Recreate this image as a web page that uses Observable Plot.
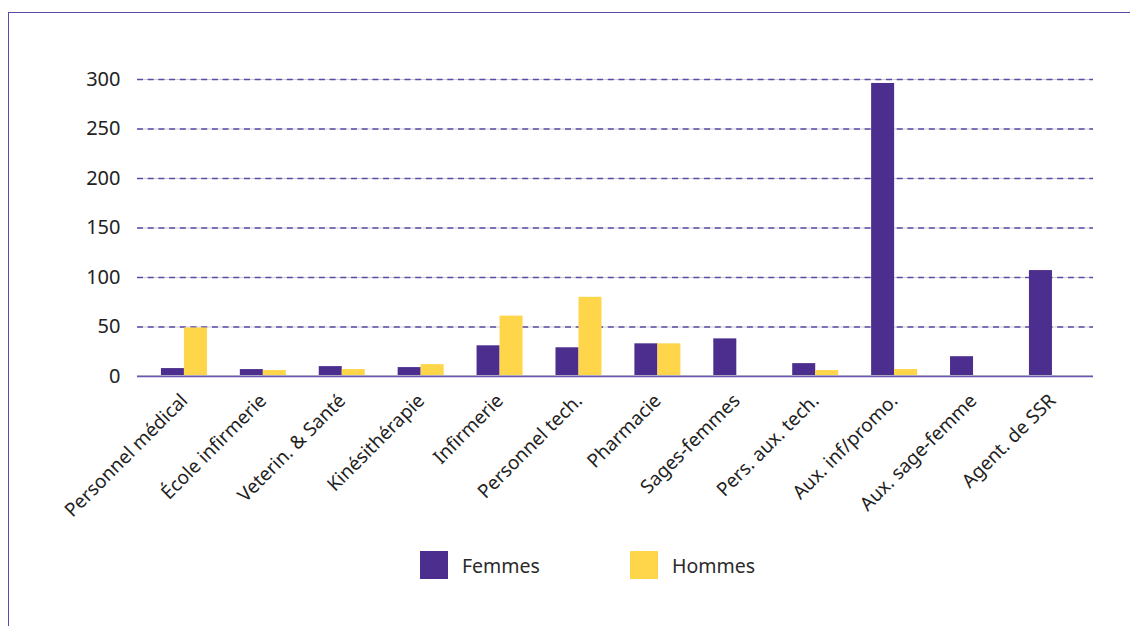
<!DOCTYPE html>
<html><head><meta charset="utf-8">
<script src="https://cdn.jsdelivr.net/npm/d3@7"></script>
<script src="https://cdn.jsdelivr.net/npm/@observablehq/plot@0.6"></script>
<style>
body{margin:0;background:#fff;font-family:"Noto Sans",sans-serif;}
#wrap{position:relative;width:1130px;height:626px;overflow:hidden;background:#fff;}
#frame{position:absolute;left:8px;top:12px;width:1200px;height:700px;border-left:1.5px solid #5e48a8;border-top:1.5px solid #5e48a8;}
#chart{position:absolute;left:0;top:0;}
#legend{position:absolute;top:551px;left:420px;display:flex;align-items:center;font-size:19.5px;color:#2a2a2a;}
#legend .item{display:flex;align-items:center;}
#legend .sw{width:28px;height:28px;margin-right:14px;}
</style>
</head><body>
<div id="wrap"><div id="frame"></div><div id="chart"></div><div id="legend"></div></div>
<script>
const categories = ["Personnel médical","École infirmerie","Veterin. & Santé","Kinésithérapie","Infirmerie","Personnel tech.","Pharmacie","Sages-femmes","Pers. aux. tech.","Aux. inf/promo.","Aux. sage-femme","Agent. de SSR"];
const femmes = [8,7,10,9,31,29,33,38,13,296,20,107];
const hommes = [49,6,7,12,61,80,33,0,6,7,0,0];
const series = ["Femmes","Hommes"];
const colors = ["#4b2e8e","#ffd54a"];
const yTicks = [0,50,100,150,200,250,300];

const rowsF = categories.map((c,i)=>({category:c, sex:"Femmes", value:femmes[i]}));
const rowsH = categories.map((c,i)=>({category:c, sex:"Hommes", value:hommes[i]}));

const chart = Plot.plot({
  width:1130, height:530,
  marginLeft:137, marginRight:37, marginTop:79, marginBottom:154,
  style:{fontFamily:"'Noto Sans', sans-serif", color:"#222", background:"transparent"},
  x:{domain:categories, paddingInner:0.417, paddingOuter:0.266, align:0.57, round:false, label:null},
  y:{domain:[0,300], label:null},
  color:{domain:series, range:colors},
  marks:[
    Plot.ruleY(yTicks.filter(d=>d>0), {stroke:"#d0d0d0", strokeWidth:1.2}),
    Plot.ruleY(yTicks.filter(d=>d>0), {stroke:"#5e48a8", strokeDasharray:"6,4.7", strokeWidth:1.3}),
    Plot.barY(rowsF, {x:"category", y:"value", fill:"sex", insetRight:23}),
    Plot.barY(rowsH, {x:"category", y:"value", fill:"sex", insetLeft:23}),
    Plot.ruleY([0], {stroke:"#c4c4c8", strokeWidth:1, dy:-1}),
    Plot.ruleY([0], {stroke:"#6a55b0", strokeWidth:1.4}),
    Plot.axisY({ticks:yTicks, tickSize:0, tickPadding:17, fontSize:20, label:null}),
    Plot.axisX({tickRotate:-45, tickSize:0, tickPadding:21, fontSize:19, label:null})
  ]
});
document.getElementById("chart").appendChild(chart);

const leg = document.getElementById("legend");
series.forEach((s,i)=>{
  const it = document.createElement("div");
  it.className="item";
  it.style.marginRight = i===0 ? "90px" : "0";
  it.innerHTML = `<div class="sw" style="background:${colors[i]}"></div><span>${s}</span>`;
  leg.appendChild(it);
});
</script>
</body></html>
